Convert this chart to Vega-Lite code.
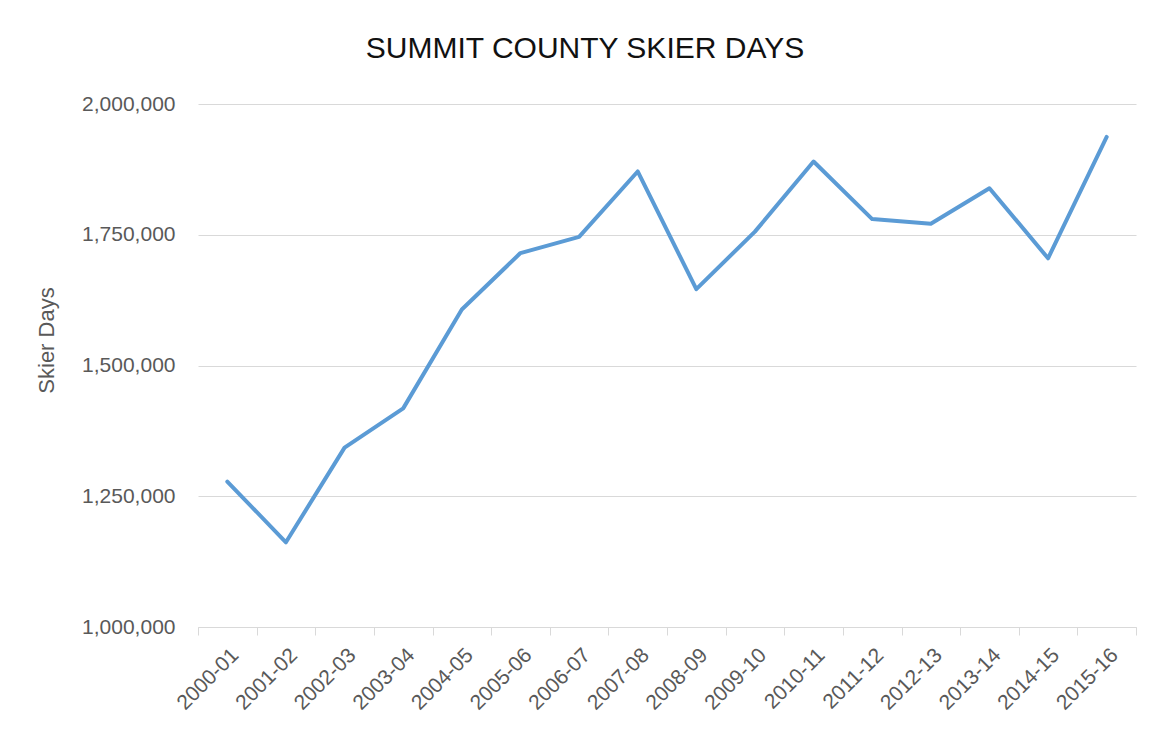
{
  "$schema": "https://vega.github.io/schema/vega-lite/v6.json",
  "width": 938,
  "height": 523,
  "autosize": {"type": "none"},
  "padding": {"left": 198, "top": 104, "right": 23, "bottom": 110},
  "background": "white",
  "title": {
    "text": "SUMMIT COUNTY SKIER DAYS",
    "font": "Liberation Sans",
    "fontSize": 30,
    "fontWeight": "normal",
    "color": "#111111",
    "anchor": "middle",
    "frame": "group",
    "baseline": "alphabetic",
    "dx": -82,
    "offset": 5
  },
  "data": {
    "values": [
      {"season": "2000-01", "days": 1278000},
      {"season": "2001-02", "days": 1162000},
      {"season": "2002-03", "days": 1343000},
      {"season": "2003-04", "days": 1418000},
      {"season": "2004-05", "days": 1607000},
      {"season": "2005-06", "days": 1715000},
      {"season": "2006-07", "days": 1746000},
      {"season": "2007-08", "days": 1871000},
      {"season": "2008-09", "days": 1646000},
      {"season": "2009-10", "days": 1756000},
      {"season": "2010-11", "days": 1890000},
      {"season": "2011-12", "days": 1780000},
      {"season": "2012-13", "days": 1771000},
      {"season": "2013-14", "days": 1839000},
      {"season": "2014-15", "days": 1705000},
      {"season": "2015-16", "days": 1937000}
    ]
  },
  "mark": {"type": "line", "color": "#5B9BD5", "strokeWidth": 4, "strokeJoin": "round", "strokeCap": "round"},
  "encoding": {
    "x": {
      "field": "season",
      "type": "ordinal",
      "bandPosition": 0.5,
      "scale": {"type": "band", "paddingInner": 0, "paddingOuter": 0},
      "axis": {
        "title": null,
        "tickBand": "extent",
        "labelAngle": -45,
        "labelFont": "Liberation Sans",
        "labelFontSize": 21,
        "labelColor": "#595959",
        "labelPadding": 9,
        "domainColor": "#d9d9d9",
        "domainWidth": 1,
        "tickColor": "#d9d9d9",
        "tickSize": 8,
        "tickWidth": 1,
        "grid": false
      }
    },
    "y": {
      "field": "days",
      "type": "quantitative",
      "scale": {"domain": [1000000, 2000000], "nice": false, "zero": false},
      "axis": {
        "title": "Skier Days",
        "titleFont": "Liberation Sans",
        "titleFontSize": 22,
        "titleFontWeight": "normal",
        "titleColor": "#595959",
        "titleAngle": 270,
        "titleAlign": "center",
        "titleBaseline": "alphabetic",
        "titleX": -145,
        "titleY": 236,
        "values": [1000000, 1250000, 1500000, 1750000, 2000000],
        "format": ",d",
        "labelFont": "Liberation Sans",
        "labelFontSize": 21,
        "labelColor": "#595959",
        "labelPadding": 23,
        "ticks": false,
        "domain": false,
        "grid": true,
        "gridColor": "#d9d9d9",
        "gridWidth": 1
      }
    }
  },
  "config": {
    "view": {"stroke": null}
  }
}
